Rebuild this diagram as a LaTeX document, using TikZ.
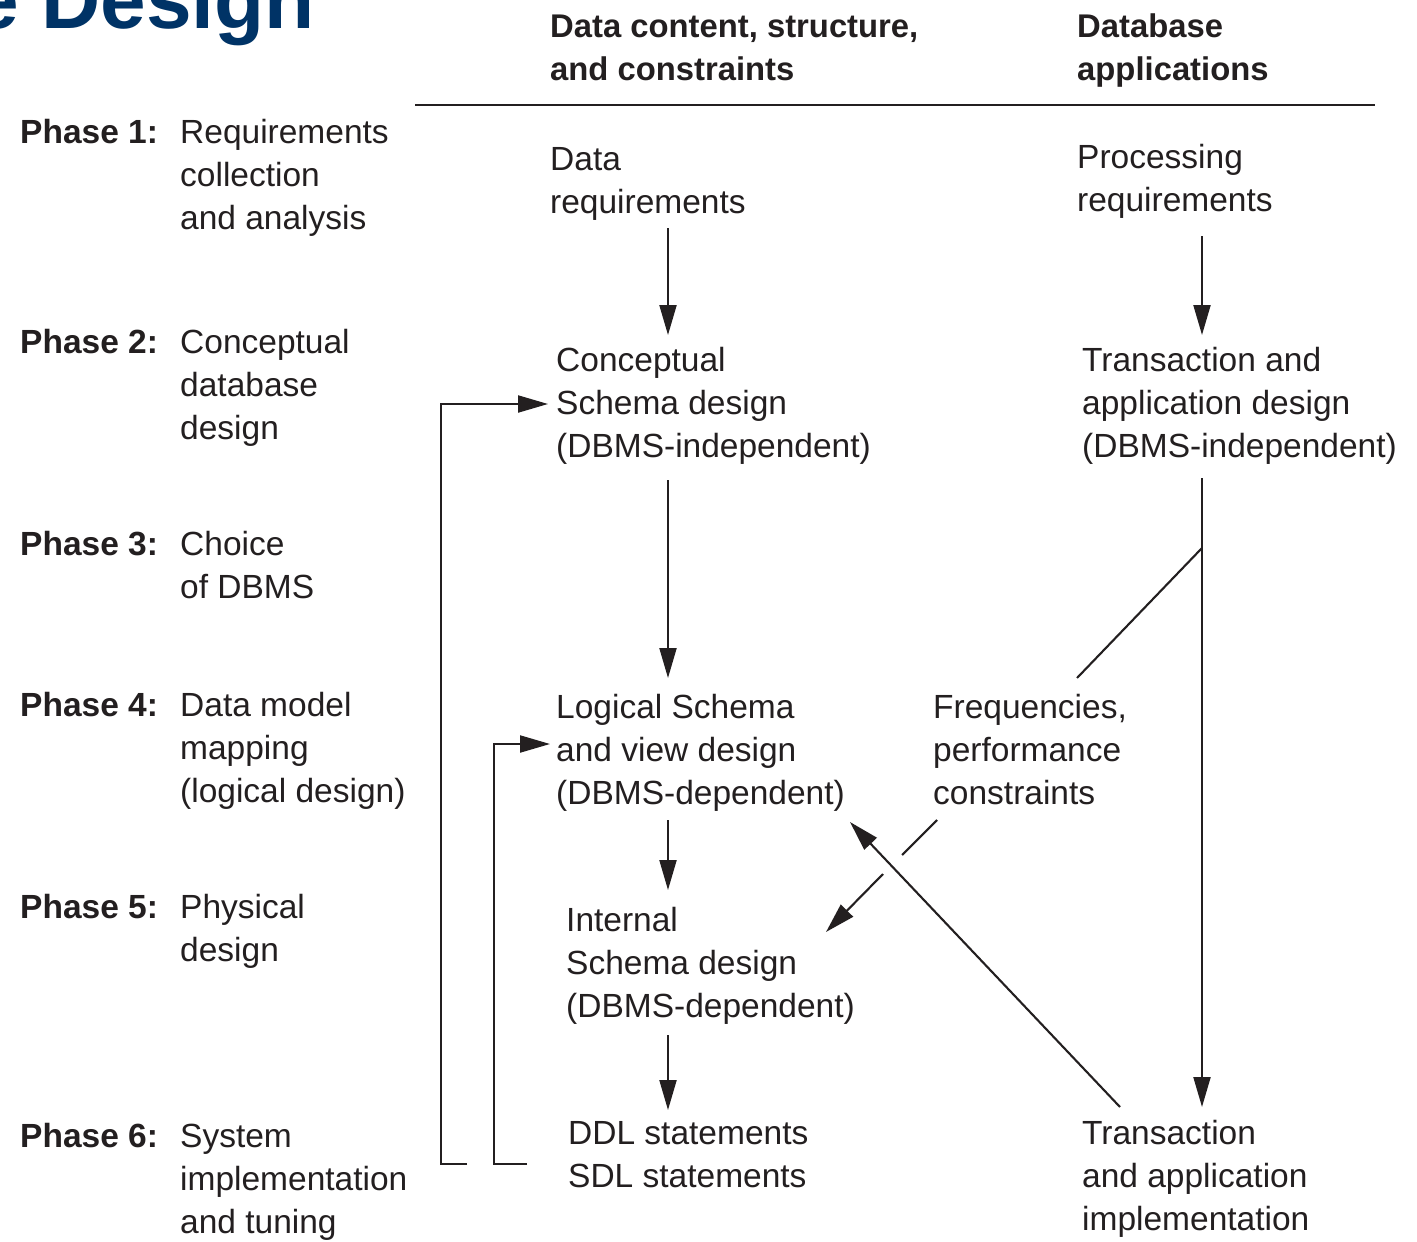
\documentclass[tikz,border=0pt]{standalone}
\usepackage{fontspec}
\setmainfont{Liberation Sans}
\usetikzlibrary{arrows.meta}
\definecolor{ink}{HTML}{231F20}
\definecolor{titleblue}{HTML}{003366}
\newcommand\firstln{\rule{0pt}{27pt}}
\begin{document}
\begin{tikzpicture}[x=1pt,y=-1pt,
  txt/.style={anchor=north west, inner sep=0pt, yshift=2pt, align=left, text=ink, font=\fontsize{33.5}{43}\selectfont},
  btxt/.style={txt, font=\fontsize{33.5}{43}\selectfont\bfseries},
  htxt/.style={txt, font=\fontsize{32.8}{43}\selectfont\bfseries},
  conn/.style={draw=ink, line width=2.1pt},
  arr/.style={conn, -{Triangle[length=30pt,width=17pt]}}]
\useasboundingbox (0,0) rectangle (1417,1242);
\clip (0,0) rectangle (1417,1242);
\fill[white] (0,0) rectangle (1417,1242);
% title
\node[anchor=base east, inner sep=0pt, text=titleblue, font=\fontsize{82}{90}\selectfont\bfseries] (title) at (315,28) {e Design};
% headings
\node[htxt] (h1) at (550,12) {\firstln Data content, structure,\\and constraints};
\node[htxt] (h2) at (1077,12) {\firstln Database\\applications};
\coordinate (rl) at (415,105);
\coordinate (rr) at (1375,105);
\draw[conn, line width=2.3pt] (rl) -- (rr);
% phases
\node[btxt] (p1) at (20,118) {\firstln Phase 1:};
\node[txt] (t1) at (180,118) {\firstln Requirements\\collection\\and analysis};
\node[btxt] (p2) at (20,328) {\firstln Phase 2:};
\node[txt] (t2) at (180,328) {\firstln Conceptual\\database\\design};
\node[btxt] (p3) at (20,530) {\firstln Phase 3:};
\node[txt] (t3) at (180,530) {\firstln Choice\\of DBMS};
\node[btxt] (p4) at (20,691) {\firstln Phase 4:};
\node[txt] (t4) at (180,691) {\firstln Data model\\mapping\\(logical design)};
\node[btxt] (p5) at (20,893) {\firstln Phase 5:};
\node[txt] (t5) at (180,893) {\firstln Physical\\design};
\node[btxt] (p6) at (20,1122) {\firstln Phase 6:};
\node[txt] (t6) at (180,1122) {\firstln System\\implementation\\and tuning};
% column 1
\node[txt] (c1) at (550,145) {\firstln Data\\requirements};
\node[txt] (c2) at (556,346) {\firstln Conceptual\\Schema design\\(DBMS-independent)};
\node[txt] (c3) at (556,693) {\firstln Logical Schema\\and view design\\(DBMS-dependent)};
\node[txt] (c4) at (566,906) {\firstln Internal\\Schema design\\(DBMS-dependent)};
\node[txt] (c5) at (568,1119) {\firstln DDL statements\\SDL statements};
% column 2
\node[txt] (d1) at (1077,143) {\firstln Processing\\requirements};
\node[txt] (d2) at (1082,346) {\firstln Transaction and\\application design\\(DBMS-independent)};
\node[txt] (fq) at (933,693) {\firstln Frequencies,\\performance\\constraints};
\node[txt] (d3) at (1082,1119) {\firstln Transaction\\and application\\implementation};
% connector end points
\coordinate (c1out) at (668,228);
\coordinate (c2in) at (668,335);
\coordinate (d1out) at (1202,236);
\coordinate (d2in) at (1202,335);
\coordinate (c2out) at (668,480);
\coordinate (c3in) at (668,678);
\coordinate (d2out) at (1202,478);
\coordinate (d3in) at (1202,1107);
\coordinate (split) at (1202,548);
\coordinate (fqin) at (1077,678);
\coordinate (c3out) at (668,820);
\coordinate (c4in) at (668,890);
\coordinate (c4out) at (668,1035);
\coordinate (c5in) at (668,1110);
\coordinate (fb1s) at (467,1164);
\coordinate (fb1a) at (441,1164);
\coordinate (fb1b) at (441,404);
\coordinate (c2left) at (548,404);
\coordinate (fb2s) at (527,1164);
\coordinate (fb2a) at (494,1164);
\coordinate (fb2b) at (494,744);
\coordinate (c3left) at (550,744);
\coordinate (d3out) at (1120,1107);
\coordinate (c3back) at (850,822);
\coordinate (fqout) at (937,820);
\coordinate (gap1) at (902,855);
\coordinate (gap2) at (883,874);
\coordinate (c4right) at (826,932);
% connectors
\draw[arr] (c1out) -- (c2in);
\draw[arr] (d1out) -- (d2in);
\draw[arr] (c2out) -- (c3in);
\draw[arr] (d2out) -- (d3in);
\draw[conn] (split) -- (fqin);
\draw[arr] (c3out) -- (c4in);
\draw[arr] (c4out) -- (c5in);
\draw[arr] (fb1s) -- (fb1a) -- (fb1b) -- (c2left);
\draw[arr] (fb2s) -- (fb2a) -- (fb2b) -- (c3left);
\draw[arr] (d3out) -- (c3back);
\draw[conn] (fqout) -- (gap1);
\draw[arr] (gap2) -- (c4right);
\end{tikzpicture}
\end{document}
